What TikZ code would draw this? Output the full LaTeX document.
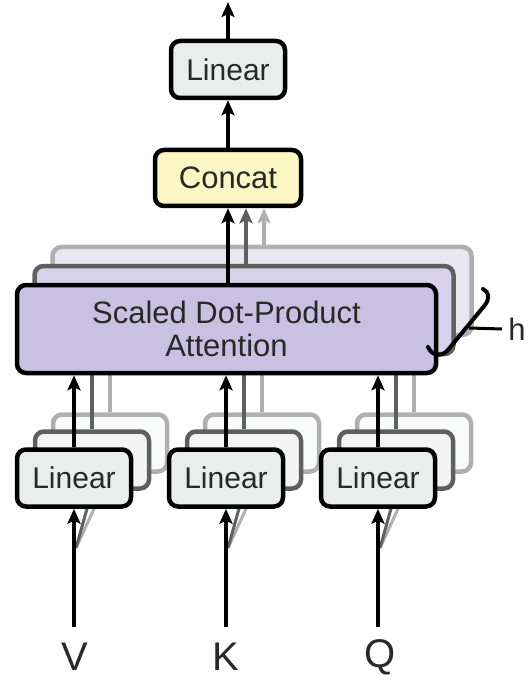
\documentclass[tikz,border=0pt]{standalone}
\usepackage{fontspec}
\setmainfont{Liberation Sans}
\usetikzlibrary{arrows.meta}
\definecolor{linfill}{RGB}{233,238,236}
\definecolor{concatfill}{RGB}{252,246,196}
\definecolor{attfill}{RGB}{200,193,226}
\definecolor{atttwofill}{RGB}{216,211,235}
\definecolor{attthreefill}{RGB}{232,230,243}
\definecolor{midgray}{RGB}{95,95,95}
\definecolor{lightgray}{RGB}{175,175,175}
\definecolor{lintwofill}{RGB}{243,245,244}
\definecolor{linthreefill}{RGB}{249,250,250}
\definecolor{txt}{RGB}{40,40,40}
\begin{document}
\begin{tikzpicture}[x=1pt,y=-1pt,
  box/.style={draw, line width=4.5pt, rounded corners=9pt, inner sep=0pt, text=txt},
  linbox/.style={box, fill=linfill, minimum width=114pt, minimum height=57pt, font=\fontsize{30}{34}\selectfont},
  linboxtwo/.style={box, draw=midgray, fill=lintwofill, minimum width=114pt, minimum height=57pt},
  linboxthree/.style={box, draw=lightgray, fill=linthreefill, minimum width=114pt, minimum height=57pt},
  attbox/.style={box, fill=attfill, minimum width=419pt, minimum height=88pt, font=\fontsize{31}{36}\selectfont, align=center},
  attboxtwo/.style={box, draw=midgray, fill=atttwofill, minimum width=419pt, minimum height=88pt},
  attboxthree/.style={box, draw=lightgray, fill=attthreefill, minimum width=419pt, minimum height=88pt},
  conbox/.style={box, fill=concatfill, minimum width=146pt, minimum height=56pt, font=\fontsize{31}{36}\selectfont},
  arr/.style={line width=4pt, -{Stealth[length=15pt,width=13pt,inset=3pt]}},
  arrtwo/.style={arr, draw=midgray},
  arrthree/.style={arr, draw=lightgray},
  plaintwo/.style={line width=4pt, draw=midgray},
  plainthree/.style={line width=4pt, draw=lightgray},
  feedtwo/.style={line width=3pt, draw=midgray},
  feedthree/.style={line width=3pt, draw=lightgray},
  lbl/.style={text=txt, font=\fontsize{40}{44}\selectfont, inner sep=0pt}
]
\useasboundingbox (0,0) rectangle (529,700);

% input points
\node[lbl] (V) at (75,657) {V};
\node[lbl] (K) at (226,657) {K};
\node[lbl] (Q) at (380,657) {Q};
\coordinate (v0) at (74,627);
\coordinate (k0) at (226,627);
\coordinate (q0) at (378,627);
\coordinate (vd) at (76,548);
\coordinate (kd) at (228,548);
\coordinate (qd) at (380,548);

% ---------- layer 3 (back) ----------
\node[attboxthree] (att3) at (262,291) {};
\node[linboxthree] (lv3) at (110,443) {};
\node[linboxthree] (lk3) at (262,443) {};
\node[linboxthree] (lq3) at (414,443) {};
\draw[plainthree] (lv3.north) -- (lv3.north |- att3.south);
\draw[plainthree] (lk3.north) -- (lk3.north |- att3.south);
\draw[plainthree] (lq3.north) -- (lq3.north |- att3.south);
\draw[feedthree] (vd) -- (lv3.south);
\draw[feedthree] (kd) -- (lk3.south);
\draw[feedthree] (qd) -- (lq3.south);

% ---------- layer 2 ----------
\node[attboxtwo] (att2) at (244,310) {};
\node[linboxtwo] (lv2) at (92,460) {};
\node[linboxtwo] (lk2) at (244,460) {};
\node[linboxtwo] (lq2) at (396,460) {};
\draw[plaintwo] (lv2.north) -- (lv2.north |- att2.south);
\draw[plaintwo] (lk2.north) -- (lk2.north |- att2.south);
\draw[plaintwo] (lq2.north) -- (lq2.north |- att2.south);
\draw[feedtwo] (vd) -- (lv2.south);
\draw[feedtwo] (kd) -- (lk2.south);
\draw[feedtwo] (qd) -- (lq2.south);

% ---------- front layer ----------
\node[linbox] (lv) at (74,478) {Linear};
\node[linbox] (lk) at (226,478) {Linear};
\node[linbox] (lq) at (378,478) {Linear};
\node[attbox] (att) at (226.5,329) {Scaled Dot-Product\\[-3pt]Attention};
\node[conbox] (concat) at (228,178) {Concat};
\node[linbox] (lout) at (228,69.5) {Linear};

% inputs to front linears
\draw[arr] (v0) -- (lv.south);
\draw[arr] (k0) -- (lk.south);
\draw[arr] (q0) -- (lq.south);

% outputs of attention layers to concat
\draw[arrthree] (att3.north -| 264,0) -- (264,0 |- concat.south);
\draw[arrtwo] (att2.north -| 246,0) -- (246,0 |- concat.south);
\draw[arr] (att.north -| concat.south) -- (concat.south);
\draw[arr] (concat.north -| lout.south) -- (lout.south);
\coordinate (top) at (228,2);
\draw[arr] (lout.north) -- (top);

% front linear -> attention
\draw[arr] (lv.north) -- (lv.north |- att.south);
\draw[arr] (lk.north) -- (lk.north |- att.south);
\draw[arr] (lq.north) -- (lq.north |- att.south);

% brace for h
\draw[line width=4pt, line cap=round] (428,347) .. controls (432,356) and (441,357) .. (447,351)
   -- (485,305) .. controls (490,298) and (489,292) .. (483,289);
\coordinate (bm) at (469,328);
\node[text=txt, font=\fontsize{31}{34}\selectfont, inner sep=0pt] (h) at (517,329) {h};
\draw[line width=3pt] (bm) -- ([xshift=-6pt]h.west);
\end{tikzpicture}
\end{document}
